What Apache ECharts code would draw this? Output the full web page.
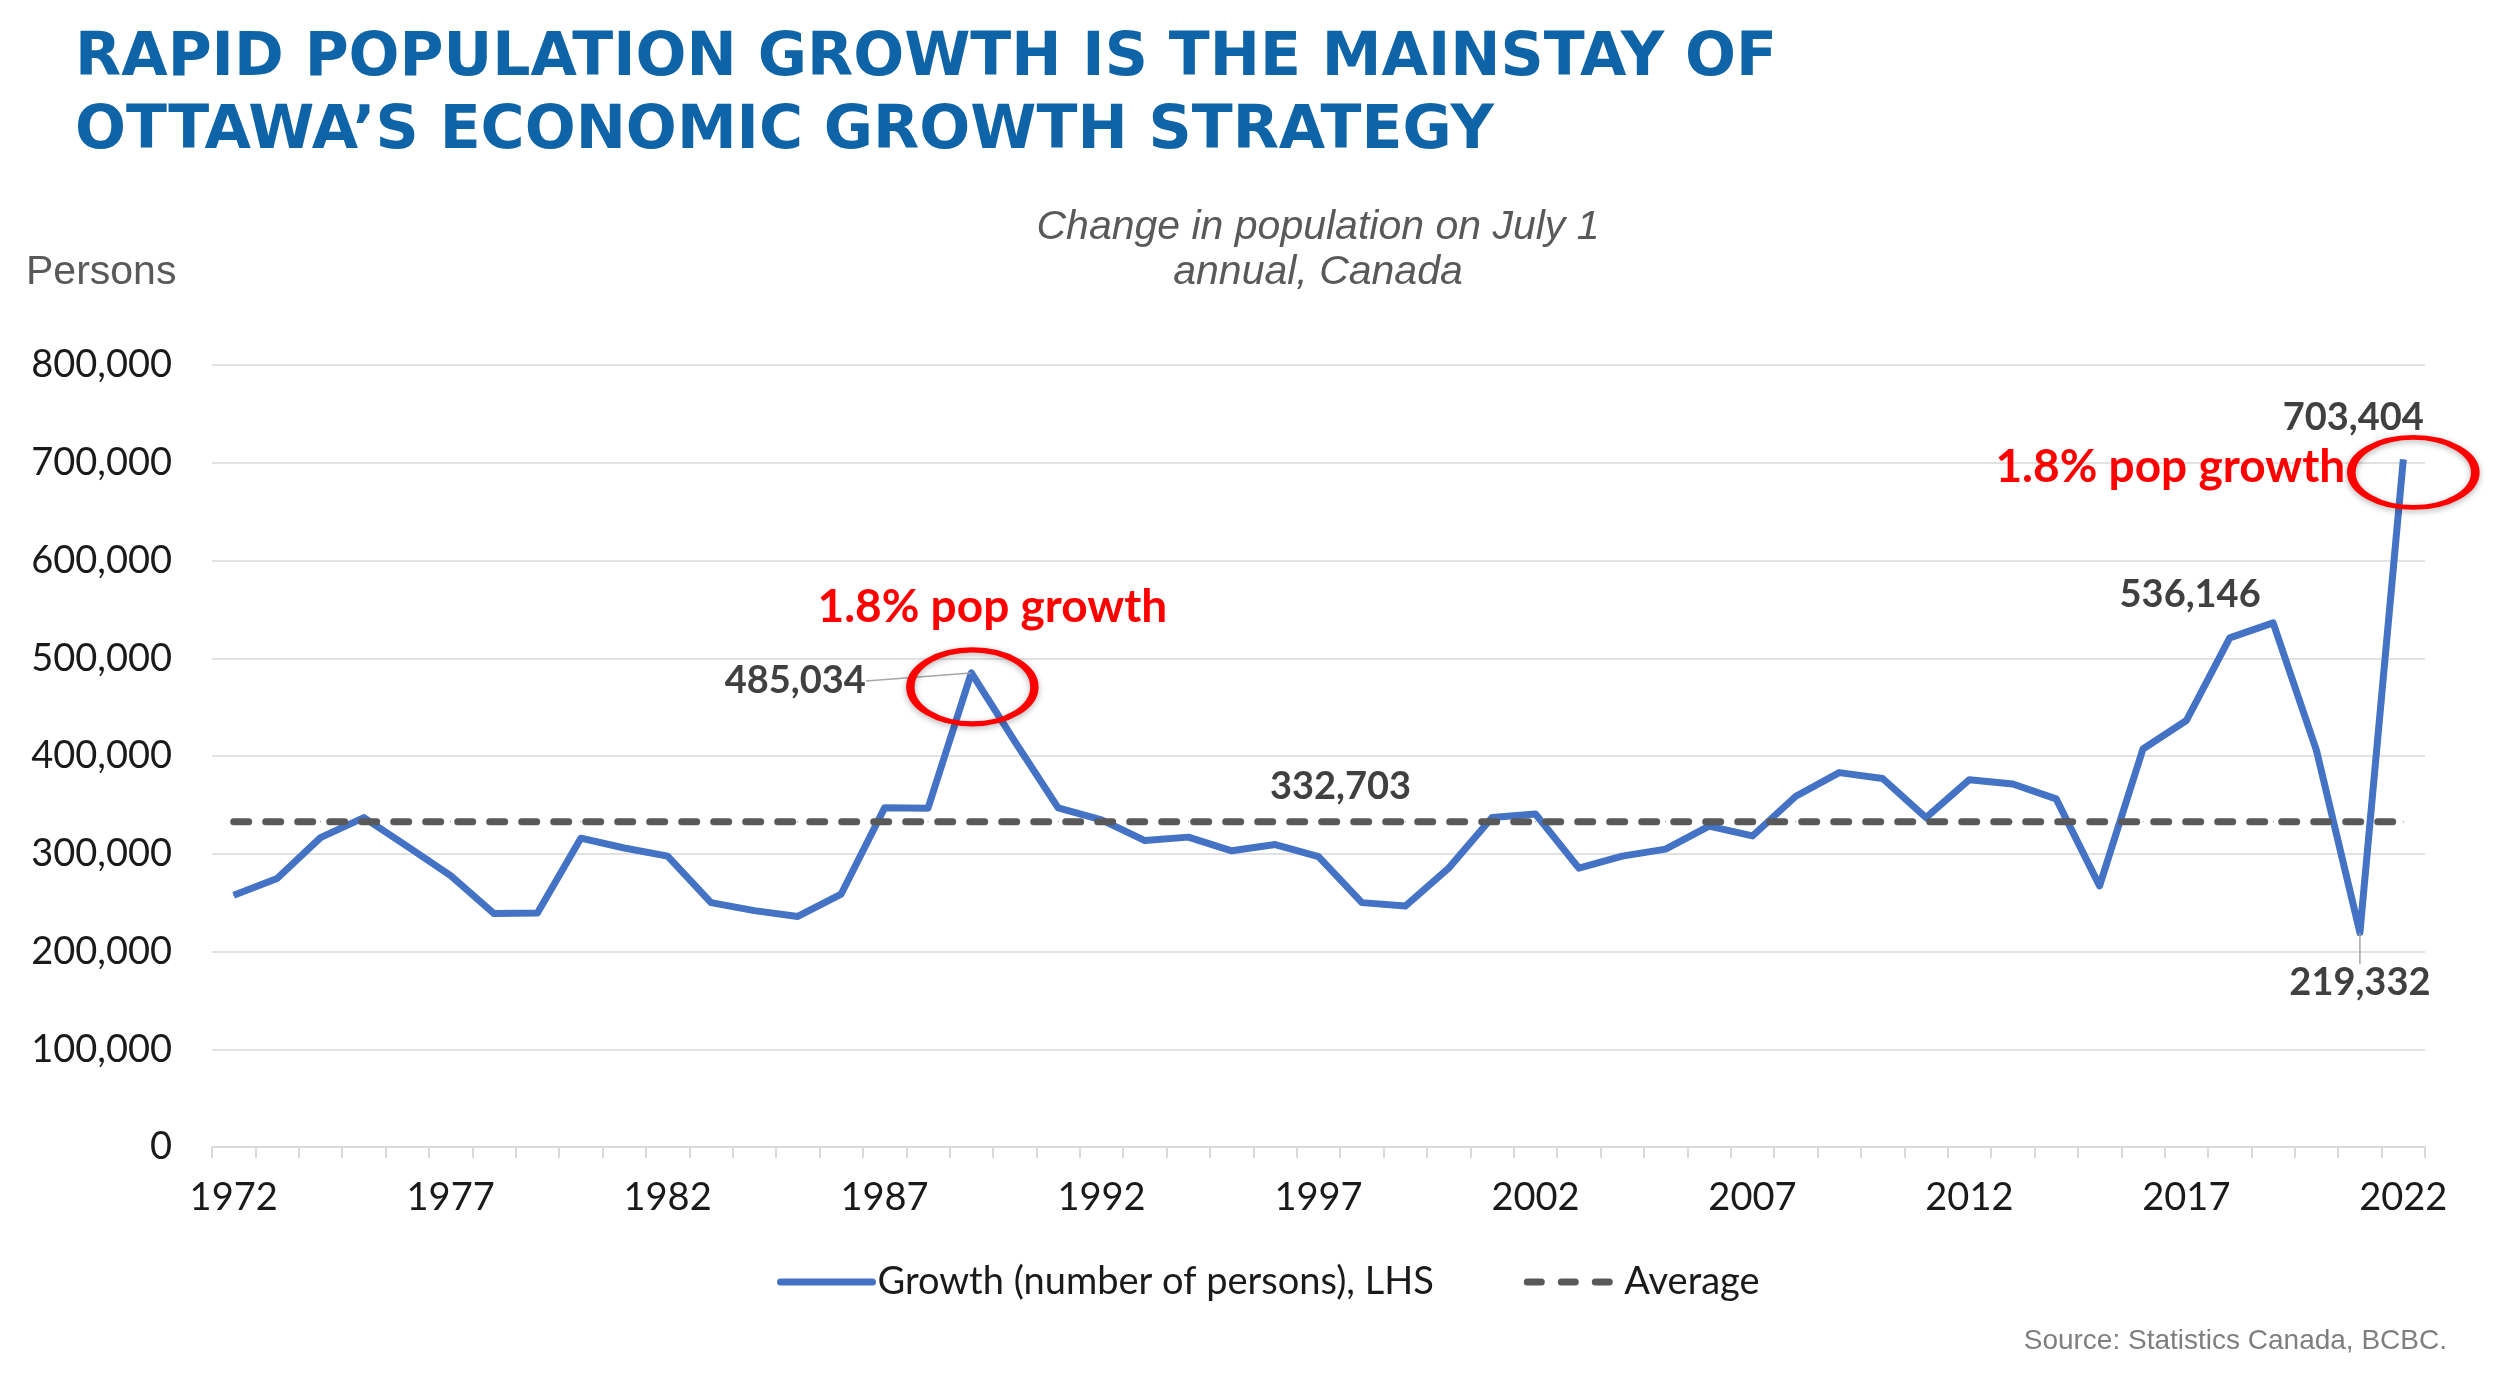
<!DOCTYPE html>
<html>
<head>
<meta charset="utf-8">
<title>Rapid population growth</title>
<script src="https://cdn.jsdelivr.net/npm/echarts@6/dist/echarts.min.js"></script>
<style>
html,body{margin:0;padding:0;background:#fff;}
#main{width:2500px;height:1376px;}
</style>
</head>
<body>
<div id="main"></div>
<script>
var years = ['1972','1973','1974','1975','1976','1977','1978','1979','1980','1981',
	'1982','1983','1984','1985','1986','1987','1988','1989','1990','1991',
	'1992','1993','1994','1995','1996','1997','1998','1999','2000','2001',
	'2002','2003','2004','2005','2006','2007','2008','2009','2010','2011',
	'2012','2013','2014','2015','2016','2017','2018','2019','2020','2021','2022'];
var growth = [257600, 274700, 316500, 337000, 307600, 277600, 238800, 239400, 315900, 305900,
	297600, 250000, 241800, 235900, 258800, 347000, 346500, 485034, 415000, 347000,
	334700, 313500, 317000, 303000, 309400, 297000, 250000, 246500, 285300, 337000,
	340600, 285300, 297600, 304700, 328200, 318200, 358800, 383000, 377000, 337000,
	375800, 371300, 356100, 267100, 407200, 436300, 520900, 536146, 405500, 219332, 703404];
var averageValue = 332703;
var seriesNames = ['Growth (number of persons), LHS', 'Average'];
var labelYears = ['1989', '2019', '2021', '2022'];
var averageLabelYear = '1997';
var noteYears = ['1989', '2022'];
var noteText = '1.8% pop growth';
var titleText = 'RAPID POPULATION GROWTH IS THE MAINSTAY OF\nOTTAWA\u2019S ECONOMIC GROWTH STRATEGY';
var subtitleText = 'Change in population on July 1\nannual, Canada';
var unitText = 'Persons';
var sourceText = 'Source: Statistics Canada, BCBC.';

var plotFont = 'Lato';
var blue = '#4472C4';
var grey = '#595959';
var ellipse = 'path://M0,50 A50,50 0 1,1 100,50 A50,50 0 1,1 0,50 Z';

function fmt(v){
	return Number(v).toLocaleString('en-US');
}

// where the value labels sit (style only)
var labelPos = {
	'1989': 'left',
	'2019': 'top',
	'2021': 'bottom',
	'2022': 'top'
};
var labelShift = {
	'1989': {dx: -100, dy: 8},
	'2019': {dx: -83, dy: -4},
	'2021': {dx: 0, dy: 26},
	'2022': {dx: -50, dy: -17}
};
var leaderYears = ['1989', '2021'];

var growthData = growth.map(function(v, i){
	var y = years[i];
	if(labelYears.indexOf(y) < 0){
		return v;
	}
	var item = {
		value: v,
		label: {
			show: true,
			position: labelPos[y],
			distance: 5,
			formatter: function(p){ return fmt(p.value); },
			fontFamily: plotFont,
			fontWeight: 'bold',
			fontSize: 38,
			color: '#404040'
		}
	};
	if(leaderYears.indexOf(y) >= 0){
		item.labelLine = {show: true, lineStyle: {color: '#a6a6a6', width: 1.5}};
	}
	return item;
});

var averageData = years.map(function(y){
	if(y == averageLabelYear){
		return {
			value: averageValue,
			label: {
				show: true,
				position: 'top',
				distance: 5,
				formatter: function(p){ return fmt(p.value); },
				fontFamily: plotFont,
				fontWeight: 'bold',
				fontSize: 38,
				color: '#404040'
			}
		};
	}
	return averageValue;
});

var notePoints = [];
noteYears.forEach(function(y, k){
	var idx = years.indexOf(y);
	notePoints.push({
		coord: [y, growth[idx]],
		symbol: ellipse,
		symbolSize: k == 0 ? [124, 74] : [124, 70],
		symbolOffset: k == 0 ? [1, 14] : [10, 13],
		itemStyle: {
			color: 'rgba(0,0,0,0)',
			borderColor: '#FF0000',
			borderWidth: 6.5,
			shadowBlur: 6,
			shadowColor: 'rgba(0,0,0,0.3)',
			shadowOffsetY: 2
		},
		label: {show: false}
	});
	notePoints.push({
		coord: [y, growth[idx]],
		symbol: 'rect',
		symbolSize: 0,
		label: {
			show: true,
			formatter: noteText,
			offset: k == 0 ? [21, -66] : [-233, 8],
			fontFamily: plotFont,
			fontWeight: 'bold',
			fontSize: 46,
			color: '#FF0000'
		}
	});
});

var myChart = echarts.init(document.getElementById('main'));
var option = {
	backgroundColor: '#ffffff',
	animation: false,
	title: [
		{
			text: titleText,
			left: 75,
			top: 23,
			padding: 0,
			textStyle: {
				fontFamily: 'DejaVu Sans',
				fontWeight: 'bold',
				fontSize: 60,
				lineHeight: 73,
				color: '#0F64A8'
			}
		},
		{
			text: subtitleText,
			left: 1318,
			top: 205,
			padding: 0,
			textAlign: 'center',
			textStyle: {
				fontFamily: 'Liberation Sans',
				fontStyle: 'italic',
				fontWeight: 'normal',
				fontSize: 41,
				lineHeight: 45,
				color: grey
			}
		},
		{
			text: unitText,
			left: 26,
			top: 250,
			padding: 0,
			textStyle: {
				fontFamily: 'Liberation Sans',
				fontWeight: 'normal',
				fontSize: 41,
				lineHeight: 46,
				color: grey
			}
		},
		{
			text: sourceText,
			right: 53,
			top: 1327,
			padding: 0,
			textStyle: {
				fontFamily: 'Liberation Sans',
				fontWeight: 'normal',
				fontSize: 28,
				color: '#7f7f7f'
			}
		}
	],
	legend: {
		left: 772,
		top: 1258,
		itemWidth: 92,
		itemHeight: 14,
		itemGap: 90,
		itemStyle: {color: 'rgba(0,0,0,0)', borderWidth: 0},
		textStyle: {
			fontFamily: plotFont,
			fontSize: 38,
			color: '#1a1a1a'
		},
		data: [
			{name: seriesNames[0], lineStyle: {width: 7, cap: 'round'}},
			{name: seriesNames[1], lineStyle: {width: 7, cap: 'round', type: [14, 20]}}
		]
	},
	grid: {
		left: 212,
		right: 75,
		top: 365,
		bottom: 229,
		containLabel: false
	},
	xAxis: {
		type: 'category',
		data: years,
		boundaryGap: true,
		axisLine: {lineStyle: {color: '#d9d9d9', width: 2}},
		axisTick: {show: true, interval: 0, length: 11, lineStyle: {color: '#d9d9d9', width: 2}},
		axisLabel: {
			interval: 4,
			margin: 32,
			fontFamily: plotFont,
			fontSize: 38,
			color: '#1a1a1a'
		},
		splitLine: {show: false}
	},
	yAxis: {
		type: 'value',
		min: 0,
		max: 800000,
		interval: 100000,
		axisLine: {show: false},
		axisTick: {show: false},
		axisLabel: {
			margin: 40,
			fontFamily: plotFont,
			fontSize: 38,
			color: '#1a1a1a',
			formatter: function(v){ return fmt(v); }
		},
		splitLine: {lineStyle: {color: '#d9d9d9', width: 1.5}}
	},
	series: [
		{
			name: seriesNames[0],
			type: 'line',
			data: growthData,
			symbol: 'circle',
			symbolSize: 1,
			showSymbol: true,
			itemStyle: {color: blue},
			lineStyle: {color: blue, width: 7, join: 'round'},
			label: {show: false},
			labelLine: {show: false},
			labelLayout: function(params){
				var s = labelShift[years[params.dataIndex]];
				if(s){
					return {dx: s.dx, dy: s.dy};
				}
				return {};
			},
			markPoint: {
				silent: true,
				animation: false,
				data: notePoints
			},
			z: 2
		},
		{
			name: seriesNames[1],
			type: 'line',
			data: averageData,
			symbol: 'circle',
			symbolSize: 1,
			showSymbol: true,
			itemStyle: {color: grey},
			lineStyle: {color: grey, width: 7, type: [15, 17], cap: 'round'},
			label: {show: false},
			labelLayout: function(params){
				if(years[params.dataIndex] == averageLabelYear){
					return {dx: 22, dy: -11};
				}
				return {};
			},
			z: 3
		}
	]
};
myChart.setOption(option);
</script>
</body>
</html>
